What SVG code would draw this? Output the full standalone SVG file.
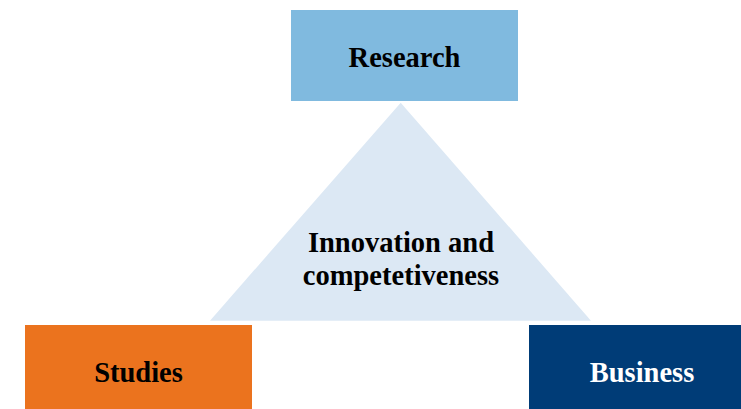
<svg xmlns="http://www.w3.org/2000/svg" width="741" height="409" viewBox="0 0 741 409">
<style>
.lbl{font-family:"Liberation Serif","Times New Roman",serif;font-weight:bold;font-size:28.5px;text-anchor:middle}
</style>
<rect width="741" height="409" fill="#ffffff"/>
<g id="triangle">
<polygon points="400.7,102.7 591,320.7 210,320.7" fill="#dce8f4"/>
<text class="lbl" x="401" y="251.5" fill="#000">Innovation and</text>
<text class="lbl" x="401" y="285" fill="#000">competetiveness</text>
</g>
<g id="research">
<rect x="291" y="10" width="227" height="91" fill="#80badf"/>
<text class="lbl" x="404.5" y="66.5" fill="#000">Research</text>
</g>
<g id="studies">
<rect x="25" y="325" width="227" height="84" fill="#eb731e"/>
<text class="lbl" x="138.5" y="382" fill="#000">Studies</text>
</g>
<g id="business">
<rect x="529" y="325" width="212" height="84" fill="#003c77"/>
<text class="lbl" x="642" y="382" fill="#fff">Business</text>
</g>
<g id="connectors"/>
</svg>
